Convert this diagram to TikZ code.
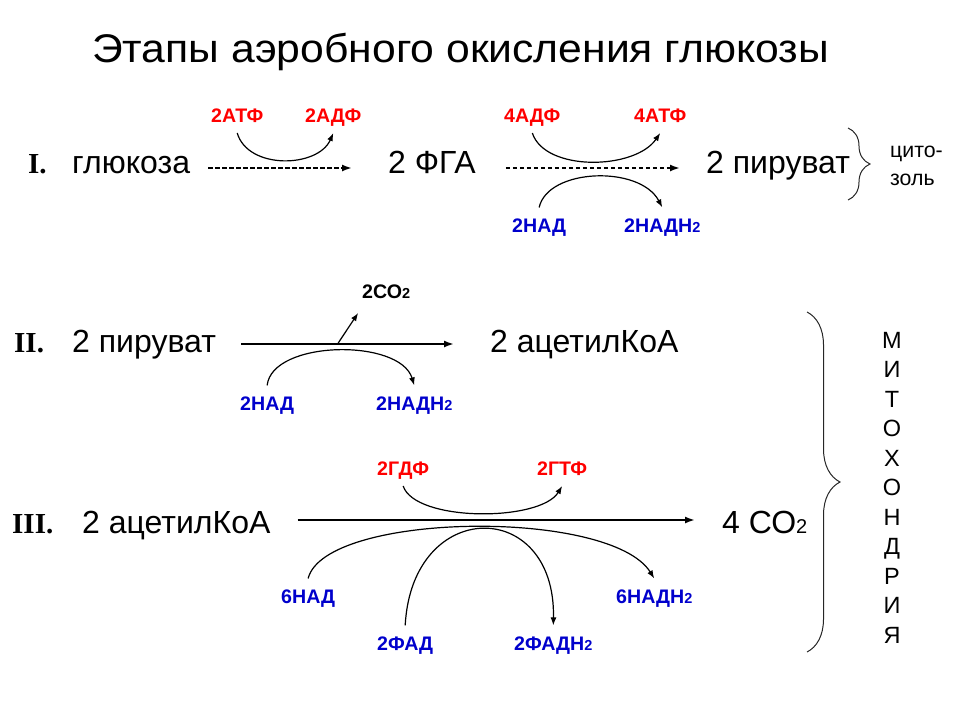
\documentclass[tikz,border=0pt]{standalone}
\usepackage{fontspec}
\setmainfont{Liberation Sans}
\newfontfamily\romfont{Liberation Serif}
\usetikzlibrary{arrows.meta,decorations.pathreplacing}
\definecolor{lred}{RGB}{255,0,0}
\definecolor{lblue}{RGB}{0,0,204}
\newcommand{\sbt}[1]{{\fontsize{14.5}{14.5}\selectfont #1}}
\begin{document}
\begin{tikzpicture}[x=1pt,y=-1pt,
  ttl/.style={font=\fontsize{40}{40}\selectfont, anchor=base west, inner sep=0pt},
  big/.style={font=\fontsize{32}{32}\selectfont, anchor=base west, inner sep=0pt},
  rom/.style={font=\romfont\bfseries\fontsize{29}{29}\selectfont, anchor=base west, inner sep=0pt},
  lbl/.style={font=\bfseries\fontsize{19.6}{19.6}\selectfont, anchor=base west, inner sep=0pt, text height=13.6pt, text depth=0pt, outer ysep=11pt},
  rl/.style={lbl, text=lred},
  bl/.style={lbl, text=lblue},
  side/.style={font=\fontsize{21.3}{21.3}\selectfont, anchor=base west, inner sep=0pt},
  vlet/.style={font=\fontsize{23.5}{23.5}\selectfont, anchor=base, inner sep=0pt},
  arr/.style={-{Latex[length=10pt,width=7pt]}, line width=1.8pt},
  darr/.style={arr, dash pattern=on 4.5pt off 2.5pt},
  arcl/.style={-{Latex[length=8pt,width=6pt]}, line width=1.2pt},
  brc/.style={decorate, line width=1pt, draw=black!85}
]
\useasboundingbox (0,0) rectangle (960,720);

% title
\node[ttl] (title) at (92,62) {\scalebox{1.067}[1]{Этапы аэробного окисления глюкозы}};

% row I
\node[rom] (r1) at (28,173) {I.};
\node[big] (glc) at (72,173) {глюкоза};
\node[big] (fga) at (388,173) {2 ФГА};
\node[big] (pyr1) at (706,173) {2 пируват};
\node[rl] (atp1) at (211,122) {2АТФ};
\node[rl] (adp1) at (305,122) {2АДФ};
\node[rl] (adp4) at (504,122) {4АДФ};
\node[rl] (atp4) at (634,122) {4АТФ};
\node[bl] (nad1) at (512,232) {2НАД};
\node[bl] (nadh1) at (624,232) {2НАДН\sbt{2}};
\node[side] (cyt1) at (890,157) {цито-};
\node[side] (cyt2) at (890,185) {золь};

\draw[darr] ([xshift=18pt,yshift=5pt]glc.base east) -- ([xshift=-36pt,yshift=5pt]fga.base west);
\draw[darr] ([xshift=30pt,yshift=5pt]fga.base east) -- ([xshift=-26pt,yshift=5pt]pyr1.base west);
\draw[arcl] (atp1.south) .. controls (248,170) and (318,168) .. (adp1.south);
\draw[arcl] (adp4.south) .. controls (545,172) and (635,170) .. (atp4.south);
\draw[arcl] (nad1.north) .. controls (548,168) and (640,165) .. (nadh1.north);
\draw[brc, decoration={brace, amplitude=22pt}] (848,128) -- (848,200);

% row II
\node[rom] (r2) at (14,352) {II.};
\node[big] (pyr2) at (72,352) {2 пируват};
\node[big] (acoa1) at (490,352) {2 ацетилКоА};
\node[lbl] (co2) at (362,298) {2СО\sbt{2}};
\node[bl] (nad2) at (240,410) {2НАД};
\node[bl] (nadh2) at (376,410) {2НАДН\sbt{2}};
\draw[arr] ([xshift=25pt,yshift=8pt]pyr2.base east) -- coordinate[pos=0.453] (split) ([xshift=-36pt,yshift=8pt]acoa1.base west);
\draw[arcl] (split) -- ([xshift=-28pt,yshift=-15pt]co2.base);
\draw[arcl] (nad2.north) .. controls (272,340) and (400,338) .. (nadh2.north);

% row III
\node[rom] (r3) at (12,533) {III.};
\node[big] (acoa2) at (82,533) {2 ацетилКоА};
\node[big] (co2b) at (722,533) {4 СО{\fontsize{20}{20}\selectfont 2}};
\node[rl] (gdp) at (377,475) {2ГДФ};
\node[rl] (gtp) at (537,475) {2ГТФ};
\node[bl] (nad6) at (281,603) {6НАД};
\node[bl] (nadh6) at (616,603) {6НАДН\sbt{2}};
\node[bl] (fad) at (377,650) {2ФАД};
\node[bl] (fadh) at (514,650) {2ФАДН\sbt{2}};
\draw[arr] ([xshift=27pt,yshift=13pt]acoa2.base east) -- ([xshift=-27pt,yshift=13pt]co2b.base west);
\draw[arcl] (gdp.south) .. controls (415,522) and (540,522) .. (gtp.south);
\draw[arcl] (nad6.north) .. controls (325,512) and (610,508) .. (nadh6.north);
\draw[arcl] (fad.north) .. controls (412,497) and (556,497) .. (fadh.north);

% mitochondria brace
\draw[brc, decoration={brace, amplitude=33pt}] (807,312) -- (807,652);
\foreach \l [count=\i from 0] in {М,И,Т,О,Х,О,Н,Д,Р,И,Я}
  \node[vlet] (m\i) at (892,348+29.5*\i) {\l};
\end{tikzpicture}
\end{document}
